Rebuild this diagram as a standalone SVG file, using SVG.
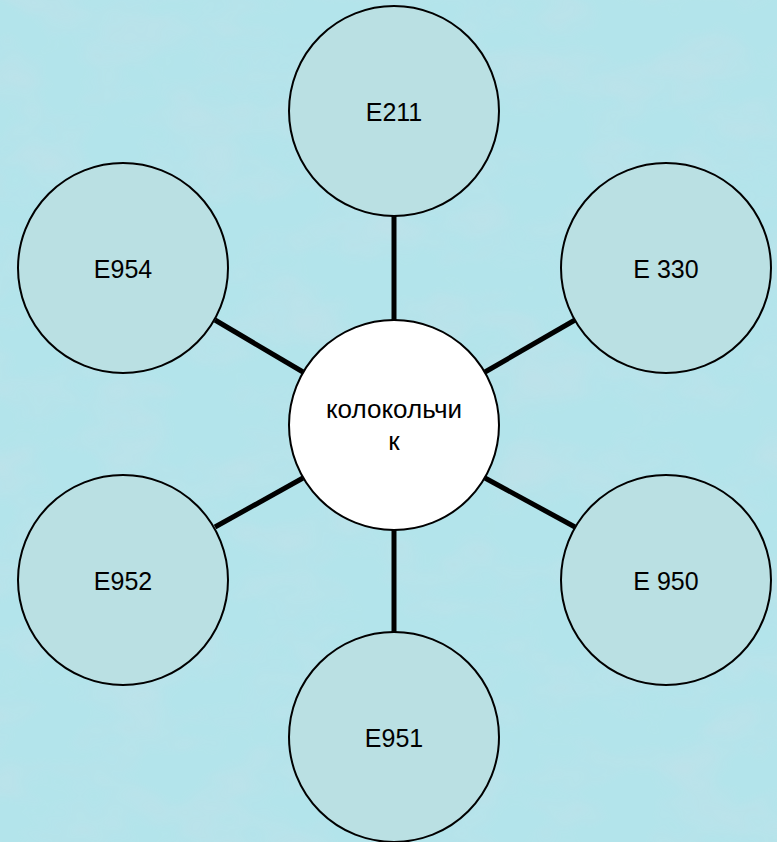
<svg xmlns="http://www.w3.org/2000/svg" width="777" height="842" viewBox="0 0 777 842">
<defs>
<style>
.node{fill:#bae0e3;stroke:#000;stroke-width:2}
.hub{fill:#fff;stroke:#000;stroke-width:2}
.lbl{font-family:"Liberation Sans",Arial,sans-serif;font-size:25px;fill:#000;text-anchor:middle}
.hub-lbl{font-size:26px}
.con line{stroke:#000;stroke-width:5}
</style>
<filter id="tex" x="0" y="0" width="100%" height="100%">
<feTurbulence type="fractalNoise" baseFrequency="0.012 0.02" numOctaves="3" seed="7"/>
<feColorMatrix type="matrix" values="0 0 0 0 0.52  0 0 0 0 0.76  0 0 0 0 0.82  0 0 0 2 -0.8"/>
</filter>
</defs>
<rect width="777" height="842" fill="#b3e4eb"/>
<rect width="777" height="842" filter="url(#tex)" opacity="0.9"/>
<g class="con" id="connectors">
<line x1="394" y1="216" x2="394" y2="320"/>
<line x1="394" y1="530" x2="394" y2="633"/>
<line x1="215" y1="320" x2="303" y2="372"/>
<line x1="575" y1="320" x2="485" y2="372"/>
<line x1="215" y1="527" x2="303" y2="478"/>
<line x1="575" y1="527" x2="485" y2="478"/>
</g>
<g id="hub"><circle class="hub" cx="394" cy="425" r="105"/><text class="lbl hub-lbl" x="394" y="418">колокольчи</text><text class="lbl hub-lbl" x="394" y="450">к</text></g>
<g id="n-e211"><circle class="node" cx="394" cy="111" r="105"/><text class="lbl" x="394" y="121">E211</text></g>
<g id="n-e954"><circle class="node" cx="123" cy="268" r="105"/><text class="lbl" x="123" y="278">E954</text></g>
<g id="n-e330"><circle class="node" cx="666" cy="268" r="105"/><text class="lbl" x="666" y="278">E 330</text></g>
<g id="n-e952"><circle class="node" cx="123" cy="580" r="105"/><text class="lbl" x="123" y="590">E952</text></g>
<g id="n-e950"><circle class="node" cx="666" cy="580" r="105"/><text class="lbl" x="666" y="590">E 950</text></g>
<g id="n-e951"><circle class="node" cx="394" cy="737" r="105"/><text class="lbl" x="394" y="747">E951</text></g>
</svg>
